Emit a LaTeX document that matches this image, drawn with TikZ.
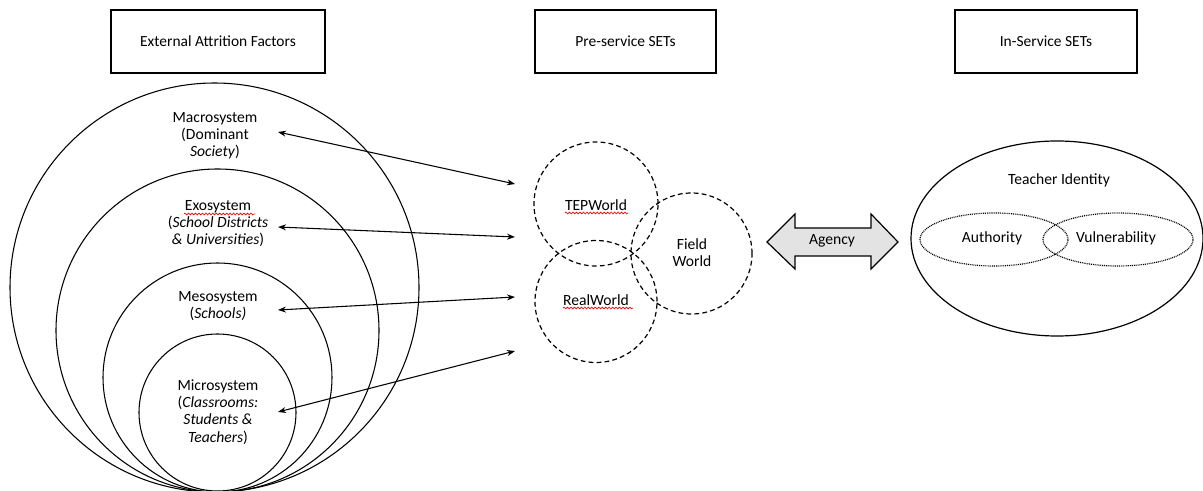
\documentclass[tikz,border=0pt]{standalone}
\usepackage{fontspec}
\setmainfont{Carlito}
\usetikzlibrary{arrows.meta,decorations.pathmorphing,shapes.geometric}
\begin{document}
\begin{tikzpicture}[x=0.75pt,y=-0.75pt,
  titlebox/.style={draw,line width=0.9pt,minimum height=47.25pt,inner sep=0pt,font=\fontsize{11.6}{13}\selectfont},
  ring/.style={circle,draw,line width=0.8pt,inner sep=0pt},
  world/.style={circle,draw,line width=0.9pt,dash pattern=on 3.6pt off 2.4pt,inner sep=0pt},
  dotell/.style={ellipse,draw,line width=0.9pt,dash pattern=on 0.7pt off 0.7pt,inner sep=0pt},
  lbl/.style={align=center,font=\fontsize{11.7}{12.9}\selectfont,inner sep=0pt},
  link/.style={line width=0.8pt,{Stealth[length=6pt,width=4.5pt]}-{Stealth[length=6pt,width=4.5pt]}},
  spell/.style={red,line width=0.5pt,decorate,decoration={snake,amplitude=0.7pt,segment length=2.6pt}}]
\useasboundingbox (0,0) rectangle (1203,491);
% title boxes
\node[titlebox,minimum width=160.5pt] (t1) at (218,41.5) {External Attrition Factors};
\node[titlebox,minimum width=135.75pt] (t2) at (625.5,41.5) {Pre-service SETs};
\node[titlebox,minimum width=136.5pt] (t3) at (1046,41.5) {In-Service SETs};
% nested circles
\node[ring,minimum size=306.75pt] (macro) at (214.5,287.5) {};
\node[ring,minimum size=242.25pt] (exo) at (217.5,330.5) {};
\node[ring,minimum size=171.75pt] (meso) at (217.5,377.5) {};
\node[ring,minimum size=117.75pt] (micro) at (217.5,412.5) {};
% labels
\node[lbl] (macrot) at (215,135.5) {Macrosystem\\(Dominant\\\textit{Society})};
\node[lbl] (exot) at (218,223.5) {Exosystem\\(\textit{School Districts}\\\textit{\& Universities})};
\node[lbl] (mesot) at (218,306) {Mesosystem\\(\textit{Schools)}};
\node[lbl] (microt) at (218,412) {Microsystem\\(\textit{Classrooms:}\\\textit{Students \&}\\\textit{Teachers})};
\draw[spell] (184,214) -- (255,214);
% pre-service worlds
\node[world,minimum size=93pt] (tep) at (596,204) {};
\node[world,minimum size=91.5pt] (real) at (596,301.5) {};
\node[world,minimum size=90.75pt] (field) at (691.5,253.5) {};
\node[lbl] (tept) at (596,205) {TEPWorld};
\node[lbl] (realt) at (596,300) {RealWorld};
\node[lbl] (fieldt) at (692,252.5) {Field\\World};
\draw[spell] (565,213) -- (628,213);
\draw[spell] (563,308) -- (633,308);
% arrow end points
\coordinate (a1l) at (278,132);
\coordinate (a1r) at (515,184);
\coordinate (a2l) at (278,227);
\coordinate (a2r) at (515,237);
\coordinate (a3l) at (278,310);
\coordinate (a3r) at (515,297);
\coordinate (a4l) at (278,412);
\coordinate (a4r) at (515,351);
\draw[link] (a1l) -- (a1r);
\draw[link] (a2l) -- (a2r);
\draw[link] (a3l) -- (a3r);
\draw[link] (a4l) -- (a4r);
% agency double arrow
\draw[line width=0.9pt,fill=black!11,line join=miter]
  (767,242) -- (795,214) -- (795,228) -- (871,228) -- (871,214) -- (898,242)
  -- (871,269) -- (871,256) -- (795,256) -- (795,269) -- cycle;
\node[lbl] (agency) at (832,241) {Agency};
% teacher identity
\node[ellipse,draw,line width=0.9pt,minimum width=219pt,minimum height=146.25pt,inner sep=0pt] (ti) at (1057,238.5) {};
\node[lbl] (tit) at (1059,180) {Teacher Identity};
\node[dotell,minimum width=111pt,minimum height=39.75pt] (auth) at (994,239.5) {};
\node[dotell,minimum width=112.5pt,minimum height=39.75pt] (vuln) at (1118,239.5) {};
\node[lbl] (autht) at (992,238) {Authority};
\node[lbl] (vulnt) at (1116,238) {Vulnerability};
\end{tikzpicture}
\end{document}
